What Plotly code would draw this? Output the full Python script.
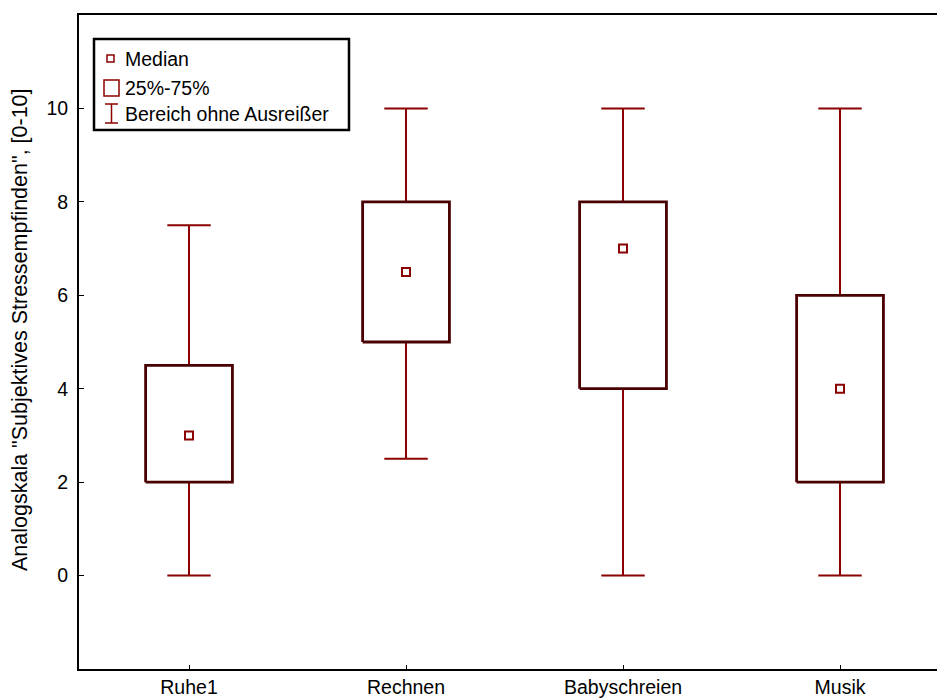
import plotly.graph_objects as go

# Stress ratings per condition (visual analogue scale 0-10)
categories = ["Ruhe1", "Rechnen", "Babyschreien", "Musik"]
medians = [3.0, 6.5, 7.0, 4.0]
q1 = [2.0, 5.0, 4.0, 2.0]
q3 = [4.5, 8.0, 8.0, 6.0]
whisker_low = [0.0, 2.5, 0.0, 0.0]
whisker_high = [7.5, 10.0, 10.0, 10.0]
y_ticks = [0, 2, 4, 6, 8, 10]
y_title = 'Analogskala "Subjektives Stressempfinden", [0-10]'

W, H = 937, 700
ML, MR, MT, MB = 79, 0, 15, 31
FONT = "Liberation Sans, Arial, sans-serif"
BOX_COLOR = "#4a0000"
WHISK_COLOR = "#8b0000"
BOX_HALF = 0.2
CAP_HALF = 0.1

pos = list(range(len(categories)))

# whiskers and caps
wx, wy = [], []
for i, lo, hi, a, b in zip(pos, whisker_low, whisker_high, q1, q3):
    wx += [i, i, None, i - CAP_HALF, i + CAP_HALF, None,
           i, i, None, i - CAP_HALF, i + CAP_HALF, None]
    wy += [b, hi, None, hi, hi, None,
           a, lo, None, lo, lo, None]

# interquartile boxes
bx, by = [], []
for i, a, b in zip(pos, q1, q3):
    bx += [i - BOX_HALF, i + BOX_HALF, i + BOX_HALF, i - BOX_HALF, i - BOX_HALF, None]
    by += [a, a, b, b, a, None]

fig = go.Figure()
fig.add_trace(go.Scatter(x=wx, y=wy, mode="lines",
                         line=dict(color=WHISK_COLOR, width=2),
                         hoverinfo="skip", showlegend=False))
fig.add_trace(go.Scatter(x=bx, y=by, mode="lines",
                         line=dict(color=BOX_COLOR, width=2.8),
                         hoverinfo="skip", showlegend=False))
fig.add_trace(go.Scatter(x=pos, y=medians, mode="markers",
                         marker=dict(symbol="square-open", size=8,
                                     color=WHISK_COLOR, line=dict(width=2, color=WHISK_COLOR)),
                         showlegend=False))

# hand-built legend box (pixel layout converted to paper coordinates)
pw, ph = W - ML - MR, H - MT - MB


def px(x):
    return (x - ML) / pw


def py(y):
    return (H - MB - y) / ph


shapes = [
    dict(type="rect", xref="paper", yref="paper", x0=px(94), x1=px(349), y0=py(39), y1=py(130),
         line=dict(color="black", width=2.5), fillcolor="white", layer="above"),
    dict(type="rect", xref="paper", yref="paper", x0=px(107), x1=px(114), y0=py(55), y1=py(62),
         line=dict(color=WHISK_COLOR, width=1.5), layer="above"),
    dict(type="rect", xref="paper", yref="paper", x0=px(104), x1=px(119), y0=py(80), y1=py(96),
         line=dict(color=WHISK_COLOR, width=1.5), layer="above"),
    dict(type="line", xref="paper", yref="paper", x0=px(111.5), x1=px(111.5), y0=py(104), y1=py(123),
         line=dict(color=WHISK_COLOR, width=1.5), layer="above"),
    dict(type="line", xref="paper", yref="paper", x0=px(105), x1=px(118), y0=py(104), y1=py(104),
         line=dict(color=WHISK_COLOR, width=1.5), layer="above"),
    dict(type="line", xref="paper", yref="paper", x0=px(105), x1=px(118), y0=py(123), y1=py(123),
         line=dict(color=WHISK_COLOR, width=1.5), layer="above"),
]

legend_items = [("Median", 59), ("25%-75%", 88), ("Bereich ohne Ausreißer", 114)]
annotations = [
    dict(text=t, xref="paper", yref="paper", x=px(123), y=py(yc), xanchor="left", yanchor="middle",
         showarrow=False, font=dict(family=FONT, size=19.5, color="black"))
    for t, yc in legend_items
]
# vertical axis caption
annotations.append(
    dict(text=y_title, xref="paper", yref="paper", x=px(20), y=py(330), textangle=-90,
         xanchor="center", yanchor="middle", showarrow=False,
         font=dict(family=FONT, size=21.5, color="black"))
)

fig.update_layout(
    width=W, height=H,
    margin=dict(l=ML, r=MR, t=MT, b=MB, pad=0),
    paper_bgcolor="white", plot_bgcolor="white",
    font=dict(family=FONT, size=19.5, color="black"),
    shapes=shapes, annotations=annotations,
    showlegend=False,
    xaxis=dict(range=[-0.507, -0.507 + pw / 217.0], tickvals=pos, ticktext=categories,
               showgrid=False, zeroline=False, showline=True, mirror=True,
               linecolor="black", linewidth=2, ticks="inside", ticklen=4,
               tickcolor="black", automargin=False, fixedrange=True,
               tickfont=dict(family=FONT, size=19.5)),
    yaxis=dict(range=[-2, 12], tickvals=y_ticks, showgrid=False, zeroline=False,
               showline=True, linecolor="black", linewidth=2, ticks="inside", ticklen=5,
               tickcolor="black", ticklabelstandoff=5, automargin=False,
               tickfont=dict(family=FONT, size=19.5)),
)

fig.write_html("out.html")
